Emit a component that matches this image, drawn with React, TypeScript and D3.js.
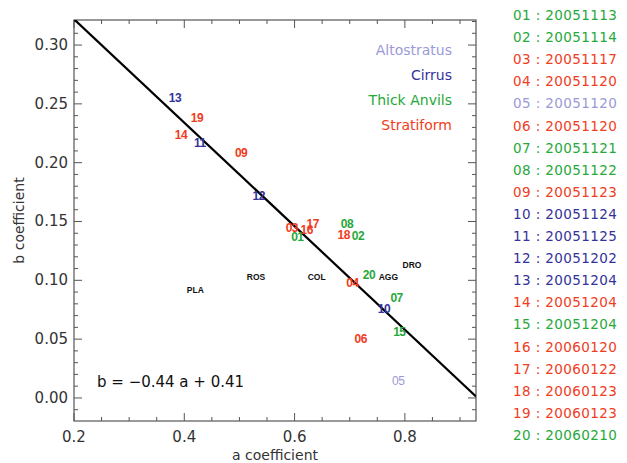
import React from "react";
import * as d3 from "d3";

// Case identifiers, dates and cloud type for each retrieval
const caseIds = ["01","02","03","04","05","06","07","08","09","10","11","12","13","14","15","16","17","18","19","20"];
const caseDates = ["20051113","20051114","20051117","20051120","20051120","20051120","20051121","20051122","20051123","20051124","20051125","20051202","20051204","20051204","20051204","20060120","20060122","20060123","20060123","20060210"];
const caseTypes = ["anvil","anvil","strat","strat","alto","strat","anvil","anvil","strat","cirrus","cirrus","cirrus","cirrus","strat","anvil","strat","strat","strat","strat","anvil"];
// Fitted (a, b) coefficients per case
const caseA = [0.605, 0.715, 0.595, 0.705, 0.788, 0.72, 0.785, 0.695, 0.503, 0.762, 0.428, 0.535, 0.383, 0.394, 0.79, 0.622, 0.633, 0.689, 0.423, 0.735];
const caseB = [0.137, 0.138, 0.145, 0.098, 0.015, 0.05, 0.085, 0.148, 0.208, 0.076, 0.217, 0.172, 0.255, 0.224, 0.056, 0.143, 0.148, 0.139, 0.238, 0.105];

// Reference ice-crystal habits
const habitNames = ["PLA", "ROS", "COL", "AGG", "DRO"];
const habitA = [0.42, 0.53, 0.64, 0.77, 0.813];
const habitB = [0.092, 0.103, 0.103, 0.103, 0.113];

// Regression line b = slope * a + intercept
const slope = -0.44;
const intercept = 0.41;

const typeOrder = ["alto", "cirrus", "anvil", "strat"];
const typeNames = ["Altostratus", "Cirrus", "Thick Anvils", "Stratiform"];
const typeColors: Record<string, string> = {
  alto: "#9a9ad8",
  cirrus: "#33339a",
  anvil: "#26a83a",
  strat: "#f03c22",
};

const xTicks = [0.2, 0.4, 0.6, 0.8];
const yTicks = [0.0, 0.05, 0.1, 0.15, 0.2, 0.25, 0.3];

const W = 627;
const H = 463;
const left = 74;
const right = 476;
const top = 20;
const bottom = 421;

const x = d3.scaleLinear().domain([0.2, 0.929]).range([left, right]);
const y = d3.scaleLinear().domain([-0.0196, 0.3213]).range([bottom, top]);

const font = "'DejaVu Sans', 'Noto Sans', sans-serif";
const axisColor = "#555";
const tickText = "#333";

export default function App() {
  const xMinor = d3.range(0.2, 0.93, 0.05).map((v) => +v.toFixed(3));
  const yMinor = d3.range(-0.01, 0.321, 0.01).map((v) => +v.toFixed(3));

  const line = d3
    .line<number>()
    .x((a) => x(a))
    .y((a) => y(slope * a + intercept));

  const lineDomain = [0.2, 0.929];

  return (
    <svg
      width={W}
      height={H}
      style={{ position: "absolute", left: 0, top: 0, background: "#fff" }}
      fontFamily={font}
    >
      <defs>
        <clipPath id="plot">
          <rect x={left} y={top} width={right - left} height={bottom - top} />
        </clipPath>
      </defs>

      {/* frame */}
      <rect x={left} y={top} width={right - left} height={bottom - top} fill="none" stroke={axisColor} strokeWidth={1.2} />

      {/* x ticks, bottom and top */}
      {xMinor.map((v) => {
        const major = xTicks.some((t) => Math.abs(t - v) < 1e-6);
        const len = major ? 8 : 4;
        return (
          <g key={"xt" + v} stroke={axisColor} strokeWidth={1}>
            <line x1={x(v)} x2={x(v)} y1={bottom} y2={bottom - len} />
            <line x1={x(v)} x2={x(v)} y1={top} y2={top + len} />
          </g>
        );
      })}
      {xTicks.map((v) => (
        <text key={"xl" + v} x={x(v)} y={442} fontSize={15} fill={tickText} textAnchor="middle">
          {v.toFixed(1)}
        </text>
      ))}

      {/* y ticks, left and right */}
      {yMinor.map((v) => {
        const major = yTicks.some((t) => Math.abs(t - v) < 1e-6);
        const len = major ? 8 : 4;
        return (
          <g key={"yt" + v} stroke={axisColor} strokeWidth={1}>
            <line x1={left} x2={left + len} y1={y(v)} y2={y(v)} />
            <line x1={right} x2={right - len} y1={y(v)} y2={y(v)} />
          </g>
        );
      })}
      {yTicks.map((v) => (
        <text key={"yl" + v} x={68} y={y(v) + 5} fontSize={15} fill={tickText} textAnchor="end">
          {v.toFixed(2)}
        </text>
      ))}

      {/* axis titles */}
      <text x={275} y={460} fontSize={14} fill={tickText} textAnchor="middle">
        a coefficient
      </text>
      <text
        transform={`translate(24, ${(top + bottom) / 2}) rotate(-90)`}
        fontSize={14}
        fill={tickText}
        textAnchor="middle"
      >
        b coefficient
      </text>

      {/* regression line */}
      <path d={line(lineDomain) || ""} stroke="#000" strokeWidth={2.2} fill="none" clipPath="url(#plot)" />

      {/* case labels */}
      {caseIds.map((id, i) => (
        <text
          key={"c" + id}
          x={x(caseA[i])}
          y={y(caseB[i])}
          dy="0.35em"
          fontSize={12}
          fontWeight={caseTypes[i] === "alto" ? 400 : 600}
          fill={typeColors[caseTypes[i]]}
          textAnchor="middle"
          letterSpacing={-0.5}
          fontFamily="'Liberation Sans', Arial, sans-serif"
        >
          {id}
        </text>
      ))}

      {/* habit labels */}
      {habitNames.map((h, i) => (
        <text
          key={"h" + h}
          x={x(habitA[i])}
          y={y(habitB[i])}
          dy="0.35em"
          fontSize={8.5}
          fontWeight={700}
          fill="#111"
          textAnchor="middle"
          fontFamily="'Liberation Sans', Arial, sans-serif"
        >
          {h}
        </text>
      ))}

      {/* cloud type key */}
      {typeOrder.map((t, i) => (
        <text key={"k" + t} x={452} y={55 + i * 25} fontSize={14} fill={typeColors[t]} textAnchor="end">
          {typeNames[i]}
        </text>
      ))}

      {/* fit equation */}
      <text x={97} y={387} fontSize={15} fill="#111">
        {`b = \u22120.44 a + 0.41`}
      </text>

      {/* case/date list */}
      {caseIds.map((id, i) => (
        <text
          key={"d" + id}
          x={513}
          y={20 + i * 22.1}
          fontSize={13.5}
          fill={typeColors[caseTypes[i]]}
          letterSpacing={0.4}
        >
          {`${id} : ${caseDates[i]}`}
        </text>
      ))}
    </svg>
  );
}
